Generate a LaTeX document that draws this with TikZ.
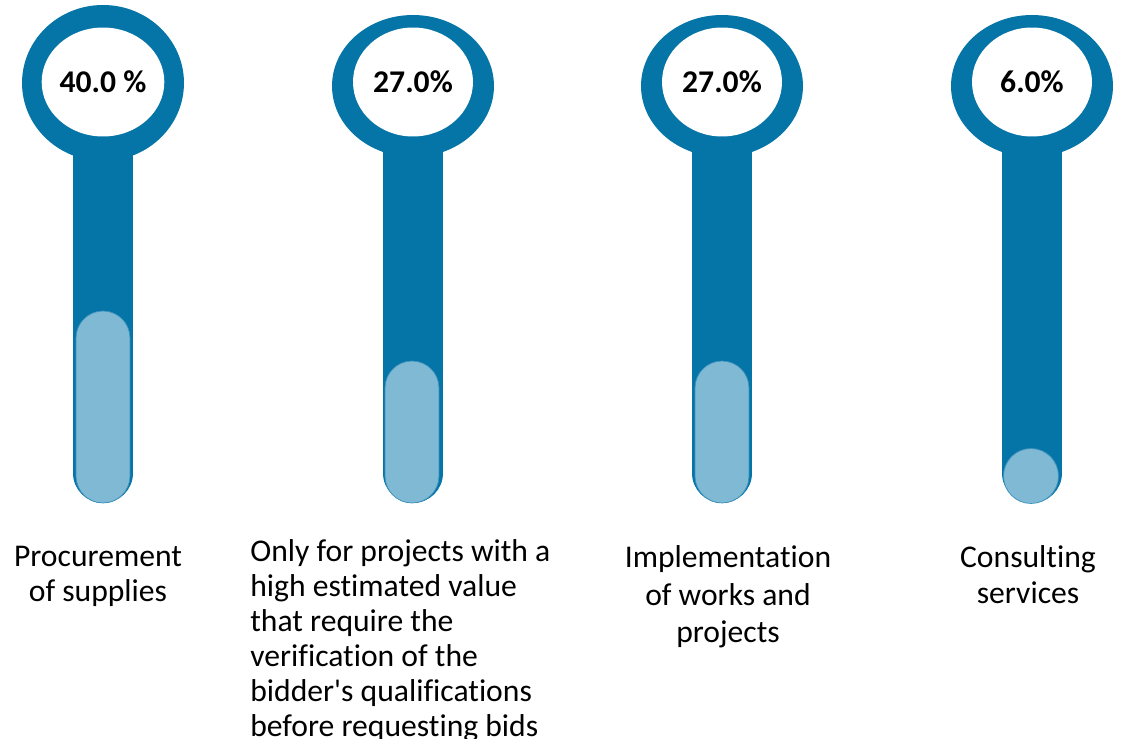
\documentclass[tikz,border=0pt]{standalone}
\usepackage{fontspec}
\newfontfamily\calib{Carlito}[Ligatures=NoCommon]
\usetikzlibrary{shapes.geometric}
\definecolor{thermoblue}{RGB}{5,116,166}
\definecolor{thermolight}{RGB}{128,185,211}
\definecolor{thermoedge}{RGB}{60,145,190}
\tikzstyle{ring} = [ellipse, fill=thermoblue, minimum width=3.24cm,
                    minimum height=2.84cm, inner sep=0pt]
\tikzstyle{hole} = [ellipse, fill=white, minimum width=2.4cm,
                    minimum height=2.18cm, inner sep=0pt,
                    font=\calib\fontsize{18}{22}\selectfont\bfseries]
\tikzstyle{liquid} = [rectangle, rounded corners=0.54cm, fill=thermolight,
                      draw=thermoedge, line width=0.4pt,
                      minimum width=1.08cm, inner sep=0pt]
\tikzstyle{catlabel} = [align=center, inner sep=0pt,
                        font=\calib\fontsize{18}{20}\selectfont]

\begin{document}
\begin{tikzpicture}[x=0.02cm, y=-0.02cm]
        \useasboundingbox (0,0) rectangle (1127,739);

        %Thermometer 1
        \fill[thermoblue] (73,140) rectangle (133,473);
        \fill[thermoblue] (103,473) circle[radius=30];
        \node (ring1) [ring, minimum height=3.12cm] at (103,83) {};
        \node (hole1) [hole] at (103,82) {40.0 \%};
        \node (liquid1) [liquid, minimum height=3.84cm] at (103,407) {};
        \node (cat1) [catlabel, anchor=base] at (98,602) {Procurement\\of supplies};

        %Thermometer 2
        \fill[thermoblue] (383,140) rectangle (443,473);
        \fill[thermoblue] (413,473) circle[radius=30];
        \node (ring2) [ring] at (413,86) {};
        \node (hole2) [hole] at (413,82) {27.0\%};
        \node (liquid2) [liquid, minimum height=2.84cm] at (412,432) {};
        \node (cat2) [catlabel, align=left, anchor=base west] at (250,737)
             {Only for projects with a\\high estimated value\\that require the\\verification of the\\bidder's qualifications\\before requesting bids};

        %Thermometer 3
        \fill[thermoblue] (692,140) rectangle (752,473);
        \fill[thermoblue] (722,473) circle[radius=30];
        \node (ring3) [ring] at (722,86) {};
        \node (hole3) [hole] at (722,82) {27.0\%};
        \node (liquid3) [liquid, minimum height=2.84cm] at (722,432) {};
        \node (cat3) [catlabel, anchor=base, font=\calib\fontsize{18}{21.5}\selectfont]
             at (728,643) {Implementation\\of works and\\projects};

        %Thermometer 4
        \fill[thermoblue] (1002,140) rectangle (1062,473);
        \fill[thermoblue] (1032,473) circle[radius=30];
        \node (ring4) [ring] at (1032,86) {};
        \node (hole4) [hole] at (1032,82) {6.0\%};
        \node (liquid4) [circle, fill=thermolight, draw=thermoedge, line width=0.4pt,
                         minimum size=1.1cm, inner sep=0pt] at (1031,476) {};
        \node (cat4) [catlabel, anchor=base, font=\calib\fontsize{18}{21}\selectfont]
             at (1028,604) {Consulting\\services};

\end{tikzpicture}
\end{document}
